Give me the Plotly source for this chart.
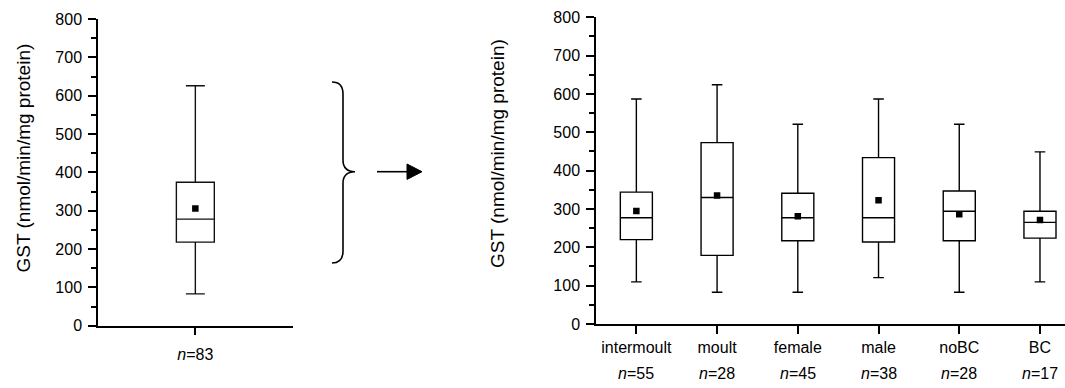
import plotly.graph_objects as go

W, H = 1065, 388

# ---------------- data ----------------
all_label = ["<i>n</i>=83"]
all_q1 = [218]
all_median = [278]
all_q3 = [374]
all_lower = [83]
all_upper = [626]
all_mean = [306]

categories = ["intermoult", "moult", "female", "male", "noBC", "BC"]
n_values = [55, 28, 45, 38, 28, 17]
upper = [587, 624, 521, 587, 521, 449]
q3 = [344, 473, 341, 434, 347, 294]
median = [277, 330, 277, 277, 294, 265]
q1 = [220, 179, 217, 214, 217, 224]
lower = [110, 83, 83, 121, 83, 110]
means = [295, 335, 281, 323, 286, 271]

y_title = "GST (nmol/min/mg protein)"
FONT = "Liberation Sans, Arial, sans-serif"


def px(x):
    return x / W


def py(y):
    return 1 - y / H


fig = go.Figure()

# left panel (all samples)
fig.add_trace(go.Box(
    x=[0], q1=all_q1, median=all_median, q3=all_q3,
    lowerfence=all_lower, upperfence=all_upper,
    width=0.195, whiskerwidth=0.5, boxpoints=False,
    line=dict(color="#111111", width=1.4), fillcolor="rgba(255,255,255,0)",
    xaxis="x", yaxis="y", showlegend=False, hoverinfo="skip"))
fig.add_trace(go.Scatter(
    x=[0], y=all_mean, mode="markers",
    marker=dict(symbol="square", size=6.5, color="black"),
    xaxis="x", yaxis="y", showlegend=False))

# right panel (groups)
xpos = list(range(1, len(categories) + 1))
fig.add_trace(go.Box(
    x=xpos, q1=q1, median=median, q3=q3,
    lowerfence=lower, upperfence=upper,
    width=0.397, whiskerwidth=0.33, boxpoints=False,
    line=dict(color="black", width=1.4), fillcolor="rgba(255,255,255,0)",
    xaxis="x2", yaxis="y2", showlegend=False, hoverinfo="skip"))
fig.add_trace(go.Scatter(
    x=xpos, y=means, mode="markers",
    marker=dict(symbol="square", size=6.5, color="black"),
    xaxis="x2", yaxis="y2", showlegend=False))

yax_common = dict(
    range=[0, 800], dtick=100, tick0=0, showgrid=False, zeroline=False,
    showline=True, linecolor="black", linewidth=1.5, automargin=False,
    ticks="outside", ticklen=8, tickwidth=1.5, tickcolor="black",
    minor=dict(ticks="outside", ticklen=5, dtick=50, tickwidth=1.5, tickcolor="black"),
    tickfont=dict(family=FONT, size=16, color="black"),
    ticklabelstandoff=3,
)
xax_common = dict(
    showgrid=False, zeroline=False, automargin=False,
    showline=True, linecolor="black", linewidth=1.5,
    ticks="outside", ticklen=8, tickwidth=1.5, tickcolor="black",
    tickfont=dict(family=FONT, size=16, color="black"),
)

fig.update_layout(
    width=W, height=H,
    margin=dict(l=0, r=0, t=0, b=0, autoexpand=False),
    paper_bgcolor="white", plot_bgcolor="white",
    font=dict(family=FONT, color="black"),
    xaxis=dict(domain=[px(98), px(292.7)], range=[-0.5, 0.5],
               tickmode="array", tickvals=[0], ticktext=all_label,
               anchor="y", ticklabelstandoff=5, **xax_common),
    yaxis=dict(domain=[py(325.7), py(19)], anchor="x", **yax_common),
    xaxis2=dict(domain=[px(596), 1.0], range=[0.5, 6.31],
                tickmode="array", tickvals=xpos, ticktext=categories,
                anchor="y2", ticklabelstandoff=0, **xax_common),
    yaxis2=dict(domain=[py(324), py(17.3)], anchor="x2", **yax_common),
)

annotations = [
    dict(text=y_title, textangle=-90, xref="paper", yref="paper",
         x=px(23), y=py(158.5), xanchor="center", yanchor="middle",
         showarrow=False, font=dict(family=FONT, size=19, color="black")),
    dict(text=y_title, textangle=-90, xref="paper", yref="paper",
         x=px(498), y=py(154), xanchor="center", yanchor="middle",
         showarrow=False, font=dict(family=FONT, size=19, color="black")),
]
for xv, n in zip(xpos, n_values):
    annotations.append(dict(
        text=f"<i>n</i>={n}", xref="x2", yref="paper", x=xv, y=py(373),
        xanchor="center", yanchor="middle",
        showarrow=False, font=dict(family=FONT, size=16, color="black")))
fig.update_layout(annotations=annotations)

# brace and arrow (decoration)
brace = (f"M {px(332)},{py(82)} Q {px(343)},{py(82)} {px(343)},{py(94)} "
         f"L {px(343)},{py(160)} Q {px(343)},{py(171.5)} {px(355)},{py(171.7)} "
         f"Q {px(343)},{py(172)} {px(343)},{py(183)} "
         f"L {px(343)},{py(251)} Q {px(343)},{py(263)} {px(332)},{py(263)}")
arrow_head = (f"M {px(407)},{py(164)} L {px(422)},{py(171.7)} "
              f"L {px(407)},{py(179.4)} Z")
fig.update_layout(shapes=[
    dict(type="path", path=brace, xref="paper", yref="paper",
         line=dict(color="black", width=1.6)),
    dict(type="line", xref="paper", yref="paper",
         x0=px(377), y0=py(171.7), x1=px(409), y1=py(171.7),
         line=dict(color="black", width=1.6)),
    dict(type="path", path=arrow_head, xref="paper", yref="paper",
         fillcolor="black", line=dict(color="black", width=1)),
])

fig.write_html("out.html")
